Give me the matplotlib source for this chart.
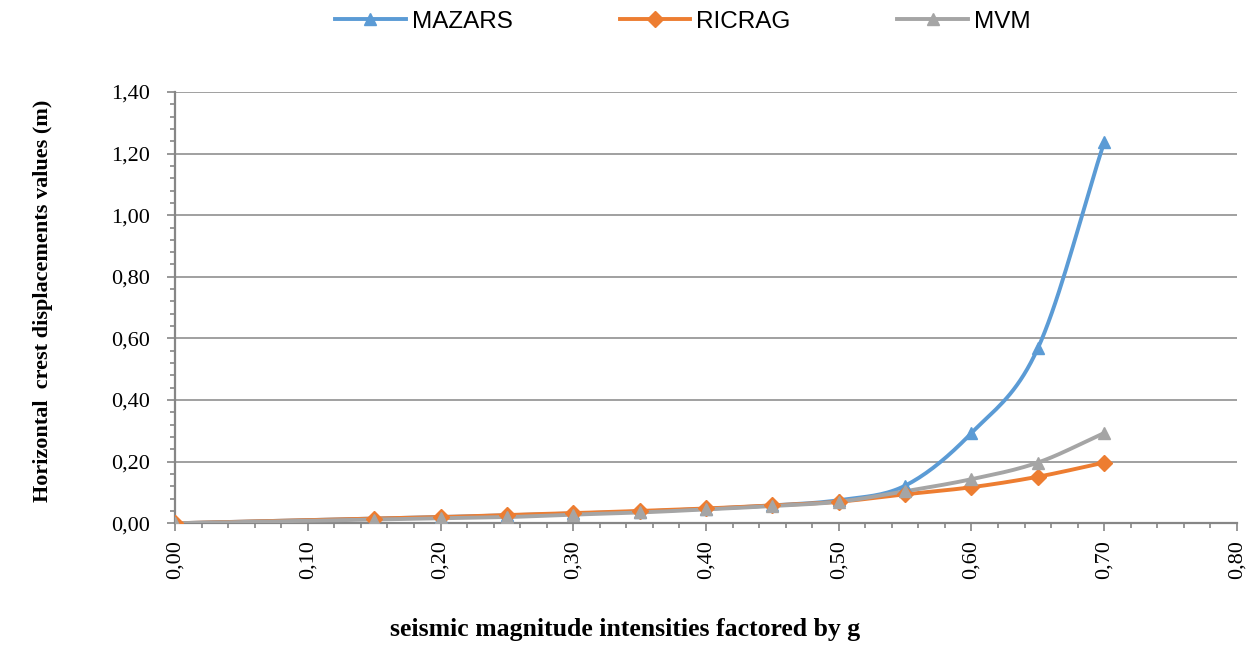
import numpy as np
import matplotlib
matplotlib.use("Agg")
from matplotlib import pyplot as plt
from matplotlib import ticker

# seismic intensity (fraction of g)
x_vals = [0.00, 0.15, 0.20, 0.25, 0.30, 0.35, 0.40, 0.45, 0.50, 0.55, 0.60, 0.65, 0.70]

# horizontal crest displacements (m)
mazars = [0.000, 0.015, 0.020, 0.026, 0.032, 0.038, 0.047, 0.058, 0.075, 0.122, 0.293, 0.568, 1.238]
ricrag = [0.000, 0.015, 0.020, 0.027, 0.033, 0.040, 0.048, 0.058, 0.070, 0.094, 0.117, 0.151, 0.197]
mvm    = [0.000, 0.012, 0.016, 0.020, 0.028, 0.035, 0.045, 0.056, 0.070, 0.104, 0.143, 0.197, 0.293]

series_names = ["MAZARS", "RICRAG", "MVM"]
series_colors = ["#5B9BD5", "#ED7D31", "#A5A5A5"]
series_markers = ["^", "D", "^"]


def smooth_curve(xs, ys, n=20):
    # catmull-rom like the excel "smoothed line" option
    xs = np.asarray(xs, float)
    ys = np.asarray(ys, float)
    px = np.concatenate([[2 * xs[0] - xs[1]], xs, [2 * xs[-1] - xs[-2]]])
    py = np.concatenate([[2 * ys[0] - ys[1]], ys, [2 * ys[-1] - ys[-2]]])
    out_x, out_y = [], []
    t = np.linspace(0, 1, n)
    for i in range(1, len(px) - 2):
        for p, out in ((px, out_x), (py, out_y)):
            p0, p1, p2, p3 = p[i - 1], p[i], p[i + 1], p[i + 2]
            seg = 0.5 * ((2 * p1) + (-p0 + p2) * t
                         + (2 * p0 - 5 * p1 + 4 * p2 - p3) * t ** 2
                         + (-p0 + 3 * p1 - 3 * p2 + p3) * t ** 3)
            out.extend(seg)
    return np.array(out_x), np.array(out_y)


fig = plt.figure(figsize=(12.53, 6.46), dpi=100)
ax = fig.add_axes([0.1397, 0.190, 0.8475, 0.6676])

axis_grey = "#868686"

for name, data, col, mk in zip(series_names, [mazars, ricrag, mvm], series_colors, series_markers):
    sx, sy = smooth_curve(x_vals, data)
    ax.plot(sx, sy, color=col, lw=2.8, solid_capstyle="round", zorder=3)
    ax.plot(x_vals, data, linestyle="none", marker=mk, color=col, markersize=8.5, zorder=4)
    # legend proxy
    ax.plot([], [], color=col, lw=2.8, marker=mk, markersize=8.5, label=name)

ax.set_xlim(0, 0.8)
ax.set_ylim(0, 1.4)

ax.xaxis.set_major_locator(ticker.MultipleLocator(0.1))
ax.xaxis.set_minor_locator(ticker.MultipleLocator(0.02))
ax.yaxis.set_major_locator(ticker.MultipleLocator(0.2))
ax.yaxis.set_minor_locator(ticker.MultipleLocator(0.04))

comma_fmt = ticker.FuncFormatter(lambda v, pos: ("%.2f" % v).replace(".", ","))
ax.xaxis.set_major_formatter(comma_fmt)
ax.yaxis.set_major_formatter(comma_fmt)

ax.grid(True, axis="y", which="major", color=axis_grey, lw=1.1, zorder=1)
ax.set_axisbelow(True)

for side in ["top", "right"]:
    ax.spines[side].set_visible(False)
for side in ["left", "bottom"]:
    ax.spines[side].set_color(axis_grey)
    ax.spines[side].set_linewidth(1.6)

ax.tick_params(axis="both", which="major", direction="out", color=axis_grey, width=1.2, length=6)
ax.tick_params(axis="both", which="minor", direction="out", color=axis_grey, width=1.2, length=3.5)
ax.tick_params(axis="y", which="major", pad=12)
ax.tick_params(axis="x", which="major", pad=6)

for lab in ax.get_yticklabels():
    lab.set_fontfamily("Liberation Serif")
    lab.set_fontsize(16)
for lab in ax.get_xticklabels():
    lab.set_fontfamily("Liberation Serif")
    lab.set_fontsize(16)
    lab.set_rotation(90)

fig.text(0.034, 0.535, "Horizontal  crest displacements values (m)", rotation=90,
         ha="center", va="center", fontsize=16, fontweight="bold", family="Liberation Serif")
fig.text(0.499, 0.025, "seismic magnitude intensities factored by g",
         ha="center", va="center", fontsize=18.5, fontweight="bold", family="Liberation Serif")

leg = fig.legend(loc="center", bbox_to_anchor=(0.545, 0.966), ncol=3, frameon=False,
                 prop={"family": "Liberation Sans", "size": 17.5},
                 handlelength=2.9, handletextpad=0.25, columnspacing=4.4)

fig.savefig("out.png", dpi=100)
